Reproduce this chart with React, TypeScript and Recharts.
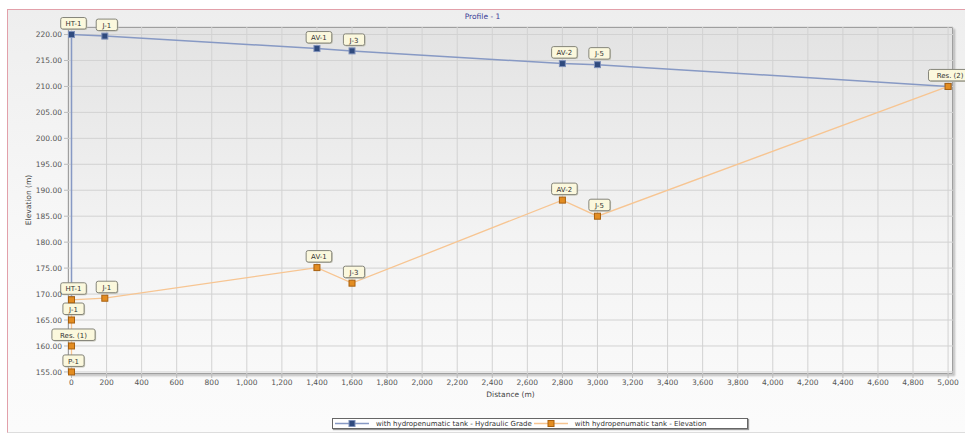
import React from "react";
import { ScatterChart, Scatter, XAxis, YAxis, CartesianGrid } from "recharts";

// hydraulic grade series
const gradeNames = ["", "HT-1", "J-1", "AV-1", "J-3", "AV-2", "J-5", ""];
const gradeDistance = [0, 0, 190, 1400, 1600, 2800, 3000, 5000];
const gradeValues = [168.9, 220, 219.7, 217.3, 216.85, 214.4, 214.2, 210];

// elevation series
const elevNames = ["P-1", "Res. (1)", "J-1", "HT-1", "J-1", "AV-1", "J-3", "AV-2", "J-5", "Res. (2)"];
const elevDistance = [0, 0, 0, 0, 190, 1400, 1600, 2800, 3000, 5000];
const elevValues = [155, 160, 165, 168.9, 169.2, 175.1, 172.1, 188.1, 185, 210];

const xTicks = [
  0, 200, 400, 600, 800, 1000, 1200, 1400, 1600, 1800, 2000, 2200, 2400, 2600,
  2800, 3000, 3200, 3400, 3600, 3800, 4000, 4200, 4400, 4600, 4800, 5000,
];
const yTicks = [155, 160, 165, 170, 175, 180, 185, 190, 195, 200, 205, 210, 215, 220];

const gradeData = gradeNames.map((name, i) => ({ name, distance: gradeDistance[i], value: gradeValues[i] }));
const elevData = elevNames.map((name, i) => ({ name, distance: elevDistance[i], value: elevValues[i] }));

const FONT = "'DejaVu Sans', Verdana, sans-serif";
const BLUE_LINE = "#8799c4";
const ORANGE_LINE = "#f7c592";

function makeShape(fill: string, stroke: string) {
  return (props: any) => {
    const { cx, cy } = props;
    if (cx == null || cy == null) return <g />;
    const name: string = props.payload?.name ?? props.name ?? "";
    const w = name ? name.length * 4.4 + 8 : 0;
    const lx = cx + 2;
    return (
      <g>
        <rect x={cx - 3} y={cy - 3} width={6} height={6} fill={fill} stroke={stroke} strokeWidth={1} />
        {name ? (
          <g>
            <rect x={lx - w / 2 + 1} y={cy - 17 + 1} width={w} height={11.5} rx={2} fill="#c4c4b6" />
            <rect x={lx - w / 2} y={cy - 17} width={w} height={11.5} rx={2} fill="#fbf8dd" stroke="#85857a" strokeWidth={1} />
            <text x={lx} y={cy - 8.3} textAnchor="middle" fontSize={7} fill="#333" fontFamily={FONT}>
              {name}
            </text>
          </g>
        ) : null}
      </g>
    );
  };
}

function LegendSwatch({ fill, stroke, line }: { fill: string; stroke: string; line: string }) {
  return (
    <svg width={34} height={9} style={{ display: "block" }}>
      <line x1={0} y1={4.5} x2={34} y2={4.5} stroke={line} strokeWidth={1.5} />
      <rect x={14} y={1.5} width={6} height={6} fill={fill} stroke={stroke} />
    </svg>
  );
}

export default function App() {
  return (
    <div style={{ position: "absolute", left: 0, top: 0, width: 965, height: 438, overflow: "hidden", background: "#ffffff", fontFamily: FONT }}>
      {/* outer frame */}
      <div
        style={{
          position: "absolute",
          left: 7,
          top: 9,
          width: 970,
          height: 424,
          boxSizing: "border-box",
          borderTop: "1px solid #e2a0aa",
          borderLeft: "1px solid #e2a0aa",
          borderBottom: "1px solid #dddddd",
          background: "linear-gradient(to bottom, #eeeeee, #f8f8f8 55%, #fbfbfb)",
        }}
      />
      {/* plot area */}
      <div
        style={{
          position: "absolute",
          left: 68,
          top: 27,
          width: 885,
          height: 347,
          boxSizing: "border-box",
          border: "1.5px solid #6c6c6c",
          boxShadow: "2px 2px 2px rgba(0,0,0,0.25)",
          background: "linear-gradient(to bottom, #e3e3e3, #f3f3f3 60%, #f9f9f9)",
        }}
      />
      <div style={{ position: "absolute", left: 0, width: 965, top: 12, textAlign: "center", fontSize: 7.5, color: "#3b3b96" }}>
        Profile - 1
      </div>
      <div
        style={{
          position: "absolute",
          left: 28,
          top: 200,
          transform: "translate(-50%, -50%) rotate(-90deg)",
          fontSize: 7.5,
          color: "#444",
          whiteSpace: "nowrap",
        }}
      >
        Elevation (m)
      </div>
      <div style={{ position: "absolute", left: 68, width: 885, top: 390, textAlign: "center", fontSize: 7.5, color: "#444" }}>
        Distance (m)
      </div>

      <div style={{ position: "absolute", left: 0, top: 0 }}>
        <ScatterChart width={965} height={438} margin={{ top: 27, right: 12, bottom: 34, left: 8 }}>
          <CartesianGrid stroke="#d2d2d2" strokeWidth={1} />
          <XAxis
            type="number"
            dataKey="distance"
            domain={[-20, 5028]}
            ticks={xTicks}
            interval={0}
            height={30}
            axisLine={false}
            tickLine={{ stroke: "#bbbbbb" }}
            tickSize={4}
            tick={{ fontSize: 7.5, fill: "#555", fontFamily: FONT }}
            tickFormatter={(v: number) => v.toLocaleString("en-US")}
          />
          <YAxis
            type="number"
            dataKey="value"
            domain={[154.6, 221.45]}
            ticks={yTicks}
            interval={0}
            width={60}
            axisLine={false}
            tickLine={{ stroke: "#bbbbbb" }}
            tickSize={4}
            tick={{ fontSize: 7.5, fill: "#555", fontFamily: FONT }}
            tickFormatter={(v: number) => v.toFixed(2)}
          />
          <Scatter
            data={gradeData}
            line={{ stroke: BLUE_LINE, strokeWidth: 1.5 }}
            lineType="joint"
            shape={makeShape("#2f4a7e", "#7f91ba")}
            isAnimationActive={false}
          />
          <Scatter
            data={elevData}
            line={{ stroke: ORANGE_LINE, strokeWidth: 1.3 }}
            lineType="joint"
            shape={makeShape("#e38d22", "#a8600f")}
            isAnimationActive={false}
          />
        </ScatterChart>
      </div>

      {/* legend */}
      <div
        style={{
          position: "absolute",
          left: 332,
          top: 418,
          width: 416,
          height: 11,
          boxSizing: "border-box",
          border: "1px solid #666",
          boxShadow: "1px 1px 1px #999",
          background: "#ffffff",
          display: "flex",
          alignItems: "center",
          fontSize: 7,
          color: "#333",
          whiteSpace: "nowrap",
        }}
      >
        <div style={{ marginLeft: 2 }}>
          <LegendSwatch fill="#2f4a7e" stroke="#7f91ba" line={BLUE_LINE} />
        </div>
        <span style={{ marginLeft: 7 }}>with hydropenumatic tank - Hydraulic Grade</span>
        <div style={{ marginLeft: 2 }}>
          <LegendSwatch fill="#e38d22" stroke="#a8600f" line={ORANGE_LINE} />
        </div>
        <span style={{ marginLeft: 7 }}>with hydropenumatic tank - Elevation</span>
      </div>
    </div>
  );
}
